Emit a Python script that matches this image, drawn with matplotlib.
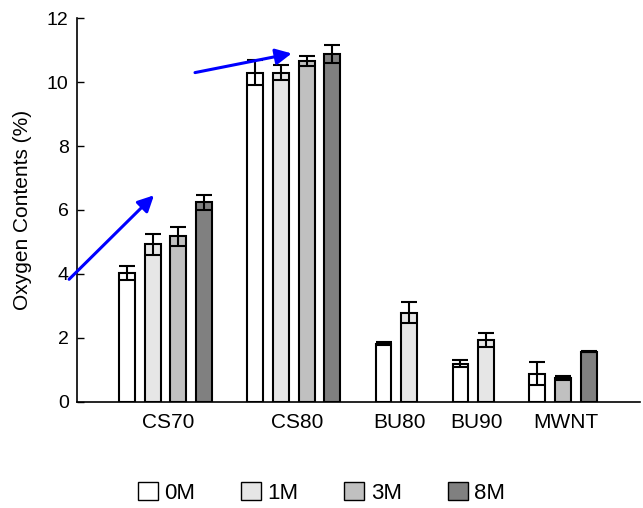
import matplotlib.pyplot as plt
from matplotlib.patches import Patch

plt.rcParams['font.family'] = ['Liberation Sans', 'DejaVu Sans']

# Samples and treatment concentrations
samples = ['CS70', 'CS80', 'BU80', 'BU90', 'MWNT']
conc = ['0M', '1M', '3M', '8M']
colors = ['#ffffff', '#e6e6e6', '#c0c0c0', '#808080']

# Oxygen content (%) per concentration, None = not measured
o_0M = [4.02, 10.30, 1.82, 1.19, 0.88]
o_1M = [4.92, 10.30, 2.79, 1.92, None]
o_3M = [5.18, 10.67, None, None, 0.74]
o_8M = [6.24, 10.87, None, None, 1.57]

e_0M = [0.22, 0.40, 0.04, 0.10, 0.35]
e_1M = [0.33, 0.23, 0.34, 0.22, None]
e_3M = [0.30, 0.16, None, None, 0.07]
e_8M = [0.23, 0.28, None, None, 0.02]

values = [o_0M, o_1M, o_3M, o_8M]
errors = [e_0M, e_1M, e_3M, e_8M]

fig = plt.figure(figsize=(6.43, 5.08), dpi=100)
ax = fig.add_axes([0.1198, 0.2093, 0.8755, 0.7547])

# bars sit side by side inside a group, one empty slot between groups
pos = 0
centers = []
for g in range(len(samples)):
    start = pos
    for k in range(len(conc)):
        v = values[k][g]
        if v is None:
            continue
        ax.bar(pos, v, width=0.62, color=colors[k], edgecolor='black',
               linewidth=1.5, zorder=2)
        ax.errorbar(pos, v, yerr=errors[k][g], fmt='none', ecolor='black',
                    elinewidth=1.5, capsize=5.5, capthick=1.5, zorder=3)
        pos += 1
    centers.append((start + pos - 1) / 2 + 0.12)
    pos += 1

ax.set_xlim(-1.95, 20.0)
ax.set_ylim(0, 12)
ax.set_xticks(centers)
ax.set_xticklabels(samples, fontsize=15)
ax.tick_params(axis='x', length=0, pad=8)
ax.set_yticks(range(0, 13, 2))
ax.tick_params(axis='y', direction='in', length=5, width=1, labelsize=14, pad=6)
ax.set_ylabel('Oxygen Contents (%)', fontsize=15, labelpad=11)

for side in ['top', 'right']:
    ax.spines[side].set_visible(False)
for side in ['left', 'bottom']:
    ax.spines[side].set_linewidth(1.2)

# trend arrows
arrow = dict(arrowstyle='-|>', color='#0000ff', lw=2.2, mutation_scale=24,
             shrinkA=0, shrinkB=0)
ax.annotate('', xy=(1.05, 6.46), xytext=(-2.26, 3.83), arrowprops=arrow,
            annotation_clip=False)
ax.annotate('', xy=(6.42, 10.9), xytext=(2.65, 10.3), arrowprops=arrow,
            annotation_clip=False)

handles = [Patch(facecolor=c, edgecolor='black', linewidth=1) for c in colors]
fig.legend(handles, conc, loc='center', bbox_to_anchor=(0.5, 0.03), ncol=4,
           frameon=False, fontsize=16, handlelength=0.9, handleheight=0.86,
           handletextpad=0.3, columnspacing=2.05)

fig.savefig('out.png', dpi=100)
